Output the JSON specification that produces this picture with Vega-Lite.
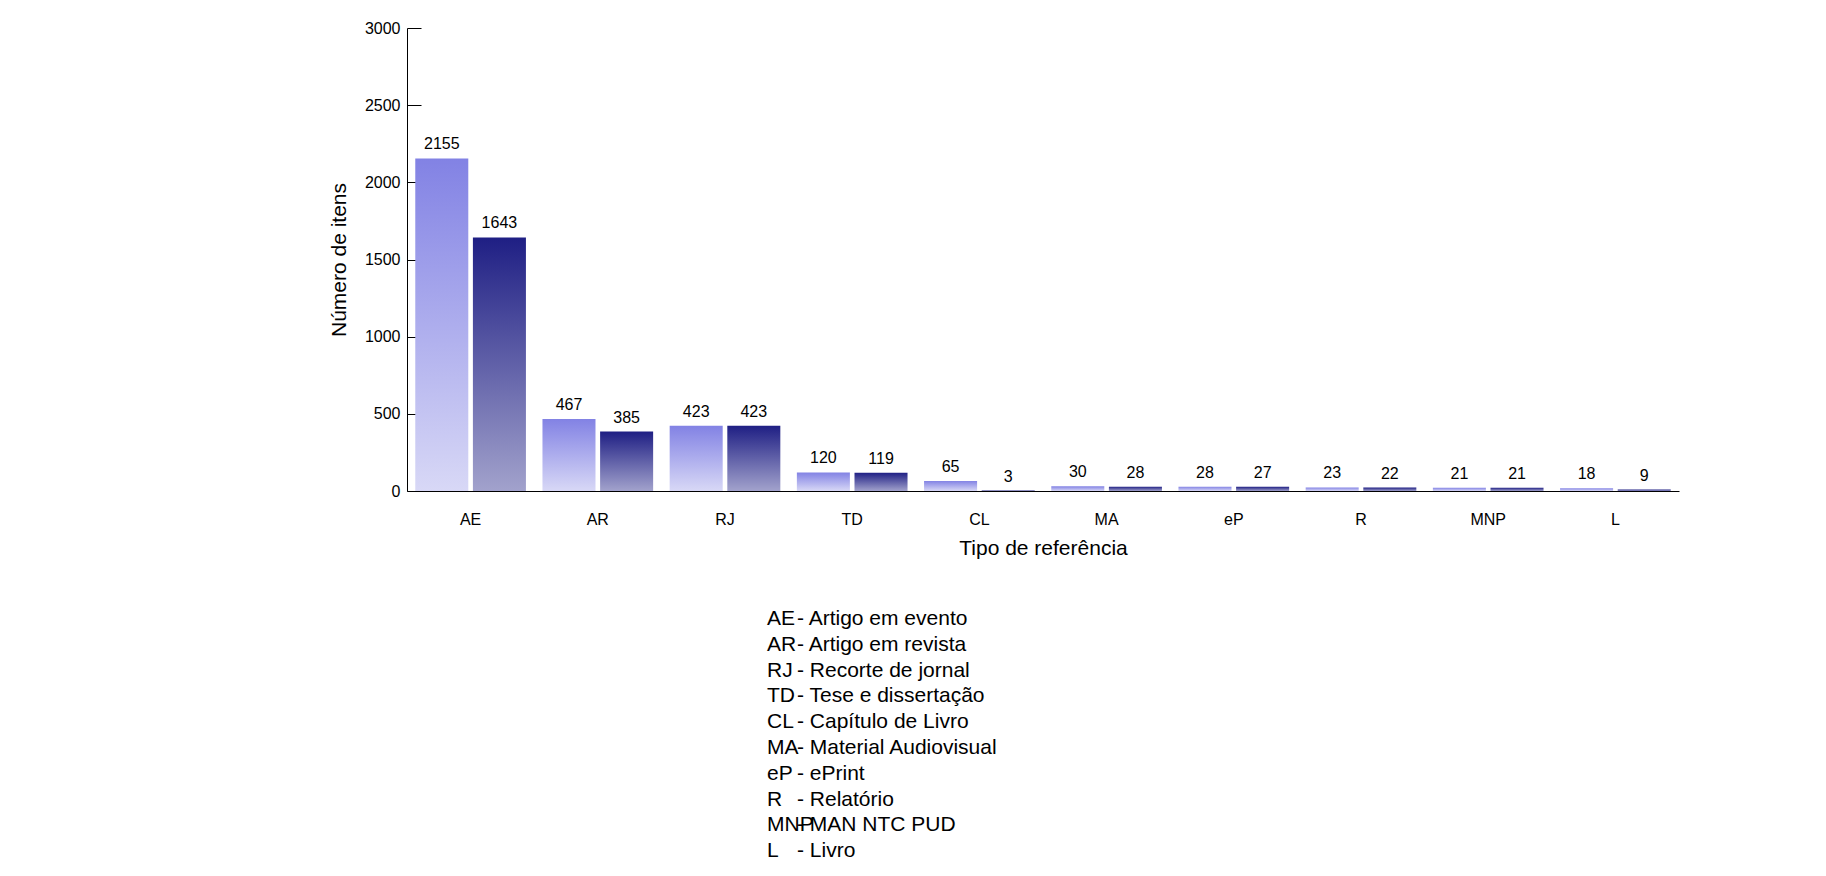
{
  "$schema": "https://vega.github.io/schema/vega-lite/v6.json",
  "padding": {"left": 328, "top": 20, "right": 50, "bottom": 0},
  "background": "white",
  "config": {"view": {"stroke": null}, "font": "Liberation Sans"},
  "bounds": "flush",
  "spacing": 115,
  "vconcat": [
    {
      "width": 1272,
      "height": 463,
      "data": {"values": [
        {"tipo": "AE", "serie": "Registro - Total: 3350", "n": 2155},
        {"tipo": "AE", "serie": "Texto completo - Total: 2680", "n": 1643},
        {"tipo": "AR", "serie": "Registro - Total: 3350", "n": 467},
        {"tipo": "AR", "serie": "Texto completo - Total: 2680", "n": 385},
        {"tipo": "RJ", "serie": "Registro - Total: 3350", "n": 423},
        {"tipo": "RJ", "serie": "Texto completo - Total: 2680", "n": 423},
        {"tipo": "TD", "serie": "Registro - Total: 3350", "n": 120},
        {"tipo": "TD", "serie": "Texto completo - Total: 2680", "n": 119},
        {"tipo": "CL", "serie": "Registro - Total: 3350", "n": 65},
        {"tipo": "CL", "serie": "Texto completo - Total: 2680", "n": 3},
        {"tipo": "MA", "serie": "Registro - Total: 3350", "n": 30},
        {"tipo": "MA", "serie": "Texto completo - Total: 2680", "n": 28},
        {"tipo": "eP", "serie": "Registro - Total: 3350", "n": 28},
        {"tipo": "eP", "serie": "Texto completo - Total: 2680", "n": 27},
        {"tipo": "R", "serie": "Registro - Total: 3350", "n": 23},
        {"tipo": "R", "serie": "Texto completo - Total: 2680", "n": 22},
        {"tipo": "MNP", "serie": "Registro - Total: 3350", "n": 21},
        {"tipo": "MNP", "serie": "Texto completo - Total: 2680", "n": 21},
        {"tipo": "L", "serie": "Registro - Total: 3350", "n": 18},
        {"tipo": "L", "serie": "Texto completo - Total: 2680", "n": 9}
      ]},
      "encoding": {
        "x": {
          "field": "tipo", "type": "nominal", "sort": null,
          "scale": {"paddingInner": 0.13, "paddingOuter": 0.065},
          "title": "Tipo de referência",
          "axis": {"labelAngle": 0, "ticks": false, "labelPadding": 20, "labelFontSize": 16,
                   "titleFontSize": 21, "titleFontWeight": "normal", "titlePadding": 10,
                   "domainColor": "black", "labelColor": "black", "titleColor": "black"}
        },
        "xOffset": {"field": "serie", "type": "nominal", "scale": {"paddingInner": 0.08}},
        "y": {
          "field": "n", "type": "quantitative",
          "scale": {"domain": [0, 3000]},
          "title": "Número de itens",
          "axis": {"values": [0, 500, 1000, 1500, 2000, 2500, 3000], "format": "d", "grid": false,
                   "tickSize": -14, "labelPadding": 21, "labelFontSize": 16,
                   "titleFontSize": 21, "titleFontWeight": "normal", "titlePadding": 15,
                   "domainColor": "black", "tickColor": "black", "labelColor": "black", "titleColor": "black"}
        }
      },
      "layer": [
        {
          "mark": {"type": "bar"},
          "encoding": {
            "color": {
              "field": "serie", "type": "nominal",
              "scale": {"range": ["#8282e4", "#1f1f84"]},
              "legend": {"orient": "none", "legendX": 690, "legendY": 795, "title": null,
                         "symbolType": "square", "symbolSize": 400, "symbolOpacity": 1,
                         "labelFontSize": 21, "labelColor": "black", "rowPadding": 8, "labelOffset": 8,
                         "labelLimit": 0}
            },
            "fill": {
              "condition": {
                "test": "datum.serie === 'Registro - Total: 3350'",
                "value": {"gradient": "linear", "x1": 0, "y1": 0, "x2": 0, "y2": 1,
                          "stops": [{"offset": 0, "color": "#8282e4"}, {"offset": 1, "color": "#d8d8f6"}]}
              },
              "value": {"gradient": "linear", "x1": 0, "y1": 0, "x2": 0, "y2": 1,
                        "stops": [{"offset": 0, "color": "#1f1f84"}, {"offset": 1, "color": "#a2a2cc"}]}
            }
          }
        },
        {
          "mark": {"type": "text", "dy": -14, "fontSize": 16, "color": "black"},
          "encoding": {"text": {"field": "n", "type": "quantitative", "format": "d"}}
        }
      ]
    },
    {
      "width": 800,
      "height": 258,
      "data": {"values": [
        {"abbr": "AE", "desc": "- Artigo em evento"},
        {"abbr": "AR", "desc": "- Artigo em revista"},
        {"abbr": "RJ", "desc": "- Recorte de jornal"},
        {"abbr": "TD", "desc": "- Tese e dissertação"},
        {"abbr": "CL", "desc": "- Capítulo de Livro"},
        {"abbr": "MA", "desc": "- Material Audiovisual"},
        {"abbr": "eP", "desc": "- ePrint"},
        {"abbr": "R", "desc": "- Relatório"},
        {"abbr": "MNP", "desc": "- MAN NTC PUD"},
        {"abbr": "L", "desc": "- Livro"}
      ]},
      "transform": [{"fold": ["abbr", "desc"], "as": ["col", "txt"]}],
      "mark": {"type": "text", "align": "left", "baseline": "middle", "fontSize": 21, "color": "black"},
      "encoding": {
        "x": {"field": "col", "type": "nominal", "scale": {"type": "point", "range": [345, 405]}, "axis": null},
        "y": {"field": "abbr", "type": "nominal", "sort": null, "scale": {"type": "point", "range": [0, 258]}, "axis": null},
        "text": {"field": "txt"}
      }
    }
  ]
}
